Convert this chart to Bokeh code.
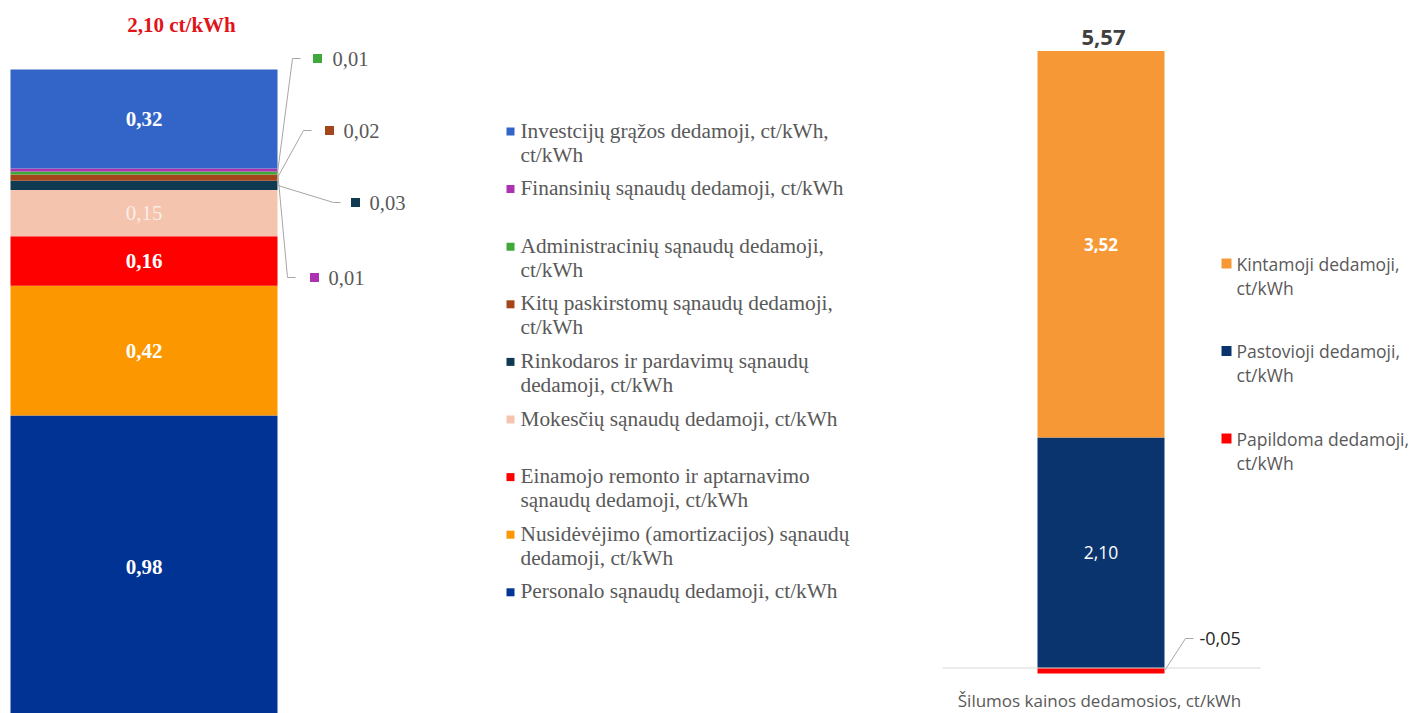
import numpy as np
from bokeh.plotting import figure
from bokeh.models import Range1d, ColumnDataSource
from bokeh.layouts import row
from bokeh.core.properties import value
from bokeh.embed import file_html
from bokeh.resources import INLINE

# ---------------- DATA ----------------
# Left chart: fixed component breakdown (stack order bottom -> top)
left_names = [
    "Personalo sąnaudų dedamoji, ct/kWh",
    "Nusidėvėjimo (amortizacijos) sąnaudų dedamoji, ct/kWh",
    "Einamojo remonto ir aptarnavimo sąnaudų dedamoji, ct/kWh",
    "Mokesčių sąnaudų dedamoji, ct/kWh",
    "Rinkodaros ir pardavimų sąnaudų dedamoji, ct/kWh",
    "Kitų paskirstomų sąnaudų dedamoji, ct/kWh",
    "Administracinių sąnaudų dedamoji, ct/kWh",
    "Finansinių sąnaudų dedamoji, ct/kWh",
    "Investcijų grąžos dedamoji, ct/kWh, ct/kWh",
]
left_values = [0.98, 0.42, 0.16, 0.15, 0.03, 0.02, 0.01, 0.01, 0.32]
left_legend_lines = [
    ["Personalo sąnaudų dedamoji, ct/kWh"],
    ["Nusidėvėjimo (amortizacijos) sąnaudų", "dedamoji, ct/kWh"],
    ["Einamojo remonto ir aptarnavimo", "sąnaudų dedamoji, ct/kWh"],
    ["Mokesčių sąnaudų dedamoji, ct/kWh"],
    ["Rinkodaros ir pardavimų sąnaudų", "dedamoji, ct/kWh"],
    ["Kitų paskirstomų sąnaudų dedamoji,", "ct/kWh"],
    ["Administracinių sąnaudų dedamoji,", "ct/kWh"],
    ["Finansinių sąnaudų dedamoji, ct/kWh"],
    ["Investcijų grąžos dedamoji, ct/kWh,", "ct/kWh"],
]
left_title = "2,10 ct/kWh"

# Right chart: heat price components (stack order bottom -> top, negative below 0)
right_names = ["Papildoma dedamoji, ct/kWh", "Pastovioji dedamoji, ct/kWh", "Kintamoji dedamoji, ct/kWh"]
right_values = [-0.05, 2.10, 3.52]
right_legend_lines = [
    ["Papildoma dedamoji,", "ct/kWh"],
    ["Pastovioji dedamoji,", "ct/kWh"],
    ["Kintamoji dedamoji,", "ct/kWh"],
]
right_category = "Šilumos kainos dedamosios, ct/kWh"

# ---------------- STYLE ----------------
left_colors = ["#003394", "#FC9700", "#FF0000", "#F4C4AE", "#0F3A52",
               "#A4461B", "#3EA83A", "#AD32AF", "#3364C8"]
right_colors = ["#FF0000", "#0A346E", "#F79836"]
SERIF = value("Liberation Serif")
SANS = value("Open Sans")
GREY = "#595959"
LEADER = "#A6A6A6"

H = 713
W_L = 930
W_R = 482
OFF = 0  # page offset of the figures


def fmt(v):
    return f"{v:.2f}".replace(".", ",")


def base_fig(w, xr, yr):
    p = figure(width=w, height=H, x_range=xr, y_range=yr,
               output_backend="svg", toolbar_location=None,
               min_border=0, x_axis_location=None, y_axis_location=None)
    p.grid.visible = False
    p.outline_line_color = None
    p.background_fill_color = "white"
    p.border_fill_color = "white"
    return p


# ---------------- LEFT FIGURE ----------------
cxL, sxL = 143.5, 267.0     # bar center (page px), px per x-unit
syL = 309.0                 # px per ct/kWh
topL = 69.0                 # page y of stack top
totL = float(np.sum(left_values))
y0L = topL + totL * syL


def lx(px):
    return (px - cxL) / sxL


def ly(py):
    return (y0L - py) / syL


pL = base_fig(W_L, Range1d(lx(OFF), lx(OFF + W_L)), Range1d(ly(OFF + H), ly(OFF)))

vals = np.array(left_values)
tops = np.cumsum(vals)
bots = tops - vals
srcL = ColumnDataSource(dict(x=[0.0] * len(vals), bottom=bots, top=tops,
                             color=left_colors))
pL.vbar(x="x", width=1.0, bottom="bottom", top="top", fill_color="color",
        line_color=None, source=srcL)

# inside labels
inside_idx = [0, 1, 2, 3, 8]
bold_in = {0: "bold", 1: "bold", 2: "bold", 3: "normal", 8: "bold"}
for i in inside_idx:
    pL.text(x=[0.0], y=[(bots[i] + tops[i]) / 2], text=[fmt(vals[i])],
            text_font=SERIF, text_font_size="21px",
            text_font_style=bold_in[i], text_color="white" if i != 3 else "#FBEDE6",
            text_align="center", text_baseline="middle")

# title
pL.text(x=[lx(181)], y=[ly(24)], text=[left_title], text_font=SERIF,
        text_font_size="21px", text_font_style="bold", text_color="#E0141A",
        text_align="center", text_baseline="middle")

# callouts: (index, elbow page px, end page px, marker page x, text page x)
callouts = [
    (6, (292, 58), 300, 317, 332),
    (5, (303, 130), 311, 329, 343),
    (4, (333, 202), 340, 355, 369),
    (7, (287, 277), 295, 314, 328),
]
for i, (ex, ey), endx, mx, tx in callouts:
    ymid = (bots[i] + tops[i]) / 2
    pL.line(x=[0.5, lx(ex), lx(endx)], y=[ymid, ly(ey), ly(ey)],
            line_color=LEADER, line_width=1)
    pL.scatter(x=[lx(mx)], y=[ly(ey)], marker="square", size=9,
               fill_color=left_colors[i], line_color=None)
    pL.text(x=[lx(tx)], y=[ly(ey)], text=[fmt(vals[i])], text_font=SERIF,
            text_font_size="20.5px", text_color=GREY, text_align="left",
            text_baseline="middle")

# legend (top -> bottom = reversed stack order)
for k, i in enumerate(reversed(range(len(vals)))):
    y_first = 130 + k * 57.6
    pL.scatter(x=[lx(510)], y=[ly(y_first + 1)], marker="square", size=8,
               fill_color=left_colors[i], line_color=None)
    for j, line in enumerate(left_legend_lines[i]):
        pL.text(x=[lx(520)], y=[ly(y_first + j * 24)], text=[line],
                text_font=SERIF, text_font_size="21.3px", text_color=GREY,
                text_align="left", text_baseline="middle")

# ---------------- RIGHT FIGURE ----------------
cxR, sxR = 1100.5, 127.0
syR = 109.8
y0R = 667.5


def rx(px):
    return (px - cxR) / sxR


def ry(py):
    return (y0R - py) / syR


pR = base_fig(W_R, Range1d(rx(OFF + W_L), rx(OFF + W_L + W_R)),
              Range1d(ry(OFF + H), ry(OFF)))

rv = np.array(right_values)
pos = np.where(rv > 0, rv, 0.0)
neg = np.where(rv < 0, rv, 0.0)
ptop = np.cumsum(pos)
pbot = ptop - pos
nbot = np.cumsum(neg)
ntop = nbot - neg
rtop = np.where(rv >= 0, ptop, ntop)
rbot = np.where(rv >= 0, pbot, nbot)
srcR = ColumnDataSource(dict(x=[0.0] * len(rv), bottom=rbot, top=rtop,
                             color=right_colors))
pR.vbar(x="x", width=1.0, bottom="bottom", top="top", fill_color="color",
        line_color=None, source=srcR)

# baseline axis
pR.line(x=[rx(942), rx(1260)], y=[0, 0], line_color="#D9D9D9", line_width=1)

# inside labels
pR.text(x=[0.0], y=[(rbot[2] + rtop[2]) / 2], text=[fmt(rv[2])], text_font=SANS,
        text_font_size="17px", text_font_style="bold", text_color="white",
        text_align="center", text_baseline="middle")
pR.text(x=[0.0], y=[(rbot[1] + rtop[1]) / 2], text=[fmt(rv[1])], text_font=SANS,
        text_font_size="17.5px", text_color="white",
        text_align="center", text_baseline="middle")

# negative callout
ymid = (rbot[0] + rtop[0]) / 2
pR.line(x=[0.5, rx(1185), rx(1193)], y=[ymid, ry(638), ry(638)],
        line_color=LEADER, line_width=1)
pR.text(x=[rx(1199)], y=[ry(638)], text=[fmt(rv[0])], text_font=SANS,
        text_font_size="18px", text_color="#262626", text_align="left",
        text_baseline="middle")

# total
total_r = float(np.sum(rv))
pR.text(x=[rx(1103)], y=[ptop[-1] + 13 / syR], text=[fmt(total_r)], text_font=SANS,
        text_font_size="22px", text_font_style="bold", text_color="#404040",
        text_align="center", text_baseline="middle")

# category label
pR.text(x=[rx(1099)], y=[ry(700)], text=[right_category], text_font=SANS,
        text_font_size="17px", text_color=GREY, text_align="center",
        text_baseline="middle")

# legend
for k, i in enumerate(reversed(range(len(rv)))):
    y_first = 263 + k * 87.5
    pR.scatter(x=[rx(1226)], y=[ry(y_first)], marker="square", size=10,
               fill_color=right_colors[i], line_color=None)
    for j, line in enumerate(right_legend_lines[i]):
        pR.text(x=[rx(1236)], y=[ry(y_first + j * 24)], text=[line],
                text_font=SANS, text_font_size="17.5px", text_color=GREY,
                text_align="left", text_baseline="middle")

layout = row(pL, pR, spacing=0)
open("out.html", "w").write(file_html(layout, INLINE))
